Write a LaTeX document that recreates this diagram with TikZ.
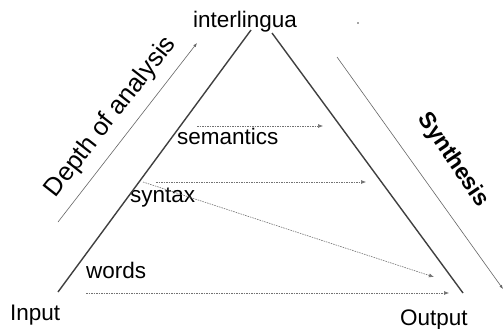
\documentclass[tikz,border=0pt]{standalone}
\usepackage{fontspec}
\setmainfont{Liberation Sans}
\usetikzlibrary{arrows.meta}
\begin{document}
\begin{tikzpicture}[x=1pt,y=-1pt,
  lbl/.style={inner sep=0pt,anchor=base west,font=\fontsize{22.5}{26}\selectfont},
  side/.style={draw=black!75,line width=1.4pt},
  guide/.style={draw=black!60,line width=0.6pt,-{Latex[length=4pt,width=3pt]}},
  flow/.style={draw=black!55,line width=0.6pt,dash pattern=on 1.5pt off 1pt,-{Latex[length=5pt,width=4pt]}}]
\useasboundingbox[fill=white] (0,0) rectangle (504,329);
% labels
\node[lbl] (inter) at (193,28) {interlingua};
\node[lbl] (sem) at (177,145) {semantics};
\node[lbl] (syn) at (130,202) {syntax};
\node[lbl] (wrd) at (86,278) {words};
\node[lbl] (inp) at (10,320) {Input};
\node[lbl] (out) at (400,325) {Output};
\node[inner sep=0pt,rotate=52,font=\fontsize{25.5}{29}\selectfont] (depth) at (111,117) {Depth of analysis};
\node[inner sep=0pt,rotate=-56,font=\fontsize{23}{26}\selectfont\bfseries] (synth) at (453,160) {Synthesis};
\fill[black!70] (358,23) circle (0.9pt) coordinate (dot);
% triangle end points
\coordinate (tlb) at (58,292);
\coordinate (tlt) at (251,30);
\coordinate (trt) at (272,33);
\coordinate (trb) at (463,293);
\draw[side] (tlb) -- (tlt);
\draw[side] (trt) -- (trb);
% side arrows
\coordinate (da) at (58,222);
\coordinate (db) at (197,43);
\coordinate (sa) at (337,57);
\coordinate (sb) at (503,289);
\draw[guide] (da) -- (db);
\draw[guide] (sa) -- (sb);
% transfer arrows
\coordinate (s1) at (197,126);
\coordinate (s2) at (323,126);
\coordinate (y1) at (156,182);
\coordinate (y2) at (366,182);
\coordinate (g1) at (143,182);
\coordinate (g2) at (434,277);
\coordinate (w1) at (86,293);
\coordinate (w2) at (449,293);
\draw[flow] (s1) -- (s2);
\draw[flow] (y1) -- (y2);
\draw[flow] (g1) -- (g2);
\draw[flow] (w1) -- (w2);
\end{tikzpicture}
\end{document}
